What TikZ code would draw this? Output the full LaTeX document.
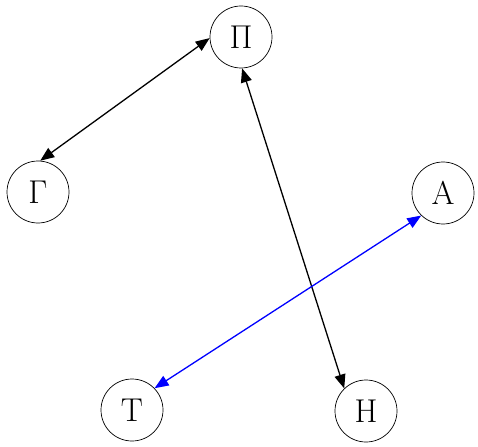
\documentclass[tikz,border=0pt]{standalone}
\usepackage{fontspec}
\usetikzlibrary{arrows.meta}
\begin{document}
\begin{tikzpicture}[x=1pt,y=-1pt,
  vert/.style={circle,draw,line width=0.7pt,minimum size=62pt,inner sep=0pt,font=\fontsize{33}{39}\selectfont},
  link/.style={line width=1.3pt,{Triangle[length=14pt,width=11pt]}-{Triangle[length=14pt,width=11pt]}}]
\useasboundingbox (0,0) rectangle (478,446);
\node[vert] (pi) at (241,37) {Π};
\node[vert] (gam) at (38,192) {Γ};
\node[vert] (al) at (443,193) {A};
\node[vert] (ta) at (132,410) {T};
\node[vert] (et) at (366,411) {H};
\draw[link] (gam.86) -- (pi.182);
\draw[link] (pi.272) -- (et.134);
\draw[link,blue] (ta.44) -- (al.226);
\end{tikzpicture}
\end{document}
